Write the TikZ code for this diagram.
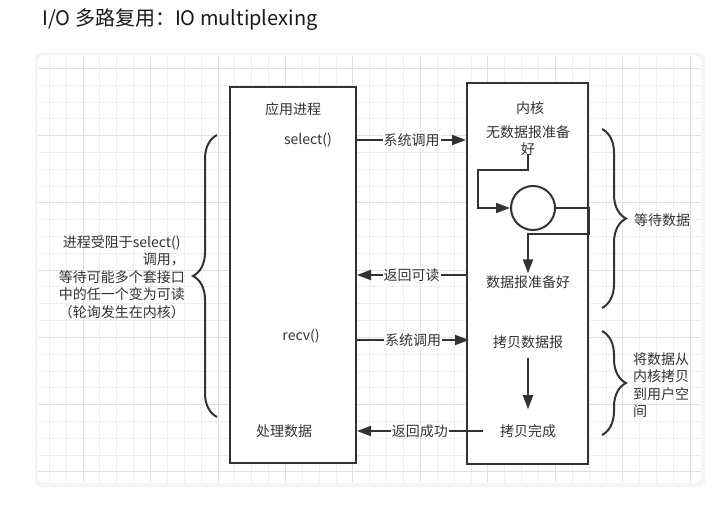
\documentclass[tikz,border=0pt]{standalone}
\usepackage{fontspec}
\setmainfont{Noto Sans CJK SC}
\usetikzlibrary{arrows.meta,decorations.pathreplacing,calc}

\definecolor{ink}{HTML}{333333}
\definecolor{gridminor}{HTML}{EEEEEE}
\definecolor{gridmajor}{HTML}{E0E0E0}
\definecolor{cardline}{HTML}{E4E4E4}

\tikzset{
  box/.style={draw=ink, line width=2pt, fill=white, inner sep=0pt},
  txt/.style={text=ink, font=\fontsize{14}{17.5}\selectfont, inner sep=2pt},
  lbl/.style={txt, fill=white, inner sep=1pt},
  arr/.style={draw=ink, line width=2pt, -{Triangle[length=14pt,width=10pt]}},
  brc/.style={draw=ink, line width=2pt, decorate, decoration={brace, amplitude=24pt}},
}

\begin{document}
\begin{tikzpicture}[x=1pt, y=-1pt]
  \useasboundingbox (0,0) rectangle (728,521);
  \fill[white] (0,0) rectangle (728,521);

  % Titulo
  \node[anchor=west, text=black!90, font=\fontsize{20}{24}\selectfont, inner sep=0pt]
       (title) at (42,20) {I/O 多路复用：IO multiplexing};

  % Tarjeta con cuadricula
  \fill[black!4, rounded corners=6pt] (35,53) rectangle (705,487);
  \draw[cardline, fill=white, rounded corners=5pt] (37,55) rectangle (702,483);
  \foreach \i in {0,...,38}
    \draw[gridminor] (49+\i*16.87, 56) -- (49+\i*16.87, 482);
  \foreach \j in {0,...,24}
    \draw[gridminor] (38, 68.3+\j*16.8) -- (701, 68.3+\j*16.8);
  \foreach \i in {2,6,...,38}
    \draw[gridmajor] (49+\i*16.87, 56) -- (49+\i*16.87, 482);
  \foreach \j in {0,4,...,24}
    \draw[gridmajor] (38, 68.3+\j*16.8) -- (701, 68.3+\j*16.8);

  % Proceso de aplicacion
  \node[box, minimum width=126pt, minimum height=376pt] (app) at (293,275) {};
  \node[txt] (apptitle) at (293,109) {应用进程};
  \node[txt] (select) at (308,140) {select()};
  \node[txt] (recv) at (301,336) {recv()};
  \node[txt] (handle) at (284,431) {处理数据};

  % Nucleo
  \node[box, minimum width=121pt, minimum height=381pt] (kernel) at (527.5,273.5) {};
  \node[txt] (kerneltitle) at (530,108) {内核};
  \node[txt, align=center] (nodata) at (528,140.5) {无数据报准备\\好};
  \node[draw=ink, line width=2pt, circle, minimum size=44pt, inner sep=0pt] (wait) at (533,208) {};
  \node[txt] (ready) at (528,282) {数据报准备好};
  \node[txt] (copy) at (528,342) {拷贝数据报};
  \node[txt] (done) at (528,431) {拷贝完成};

  % Bucle de espera
  \coordinate (loopL) at (478,170);
  \coordinate (loopR) at (528,234);
  \draw[arr] ([yshift=4pt]nodata.south) |- (loopL) |- (wait.west);
  \draw[arr] (wait.east) -- (kernel.east |- wait) |- (loopR) -- (ready.north);
  \draw[arr] ([yshift=-7pt]copy.south) -- ([yshift=13pt]done.north);

  % Llamadas entre proceso y nucleo
  \draw[arr] (app.east |- select) -- (kernel.west |- select)
        node[lbl, midway] {系统调用};
  \draw[arr] ([yshift=7pt]kernel.west |- ready) -- ([yshift=7pt]app.east |- ready)
        node[lbl, midway] {返回可读};
  \draw[arr] ([yshift=2pt]app.east |- copy) -- ([yshift=2pt, xshift=3pt]kernel.west |- copy)
        node[lbl, midway] {系统调用};
  \draw[arr] ([xshift=-15pt]done.west) -- (app.east |- done)
        node[lbl, midway] {返回成功};

  % Llaves
  \draw[brc] (217,417) -- (217,135);
  \node[txt, align=center, anchor=east] (blocked) at (187,277)
       {进程受阻于select()\\\makebox[9em][r]{调用，}\\等待可能多个套接口\\中的任一个变为可读\\（轮询发生在内核）};
  \draw[brc] (602,129) -- (602,308);
  \node[txt] (waitdata) at (662,220) {等待数据};
  \draw[brc] (602,331) -- (602,435);
  \node[txt, align=left, anchor=west] (copyout) at (631,385)
       {将数据从\\内核拷贝\\到用户空\\间};
\end{tikzpicture}
\end{document}
